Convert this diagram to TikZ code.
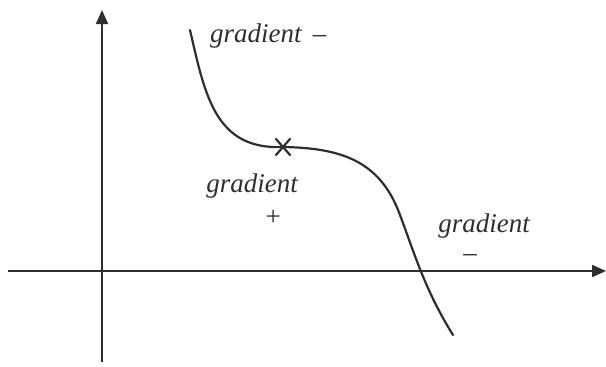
\documentclass[tikz,border=0pt]{standalone}
\usepackage{fontspec}
\setmainfont{Liberation Serif}
\usetikzlibrary{arrows.meta}
\definecolor{ink}{HTML}{2E2E2E}
\tikzset{
  axis/.style={draw=ink, line width=2pt, -{Triangle[length=14pt,width=12pt]}},
  curve/.style={draw=ink, line width=2.2pt, line cap=round},
  lbl/.style={text=ink, font=\itshape\fontsize{27}{27}\selectfont, inner sep=0pt}
}
\begin{document}
\begin{tikzpicture}[x=1pt,y=-1pt]
\useasboundingbox (0,0) rectangle (606,367);
\coordinate (ybot) at (102,362);
\coordinate (ytop) at (102,10);
\coordinate (xl) at (8,271);
\coordinate (xr) at (606,271);
\draw[axis] (ybot) -- (ytop);
\draw[axis] (xl) -- (xr);
\coordinate (c0) at (190,30);
\coordinate (sp) at (283,147);
\coordinate (c1) at (453,335);
\draw[curve] (c0) .. controls (205,95) and (215,150) .. (sp)
  .. controls (340,148) and (380,160) .. (400,215)
  .. controls (415,255) and (425,290) .. (c1);
\draw[curve] ([shift={(-7,-8)}]sp) -- ([shift={(7,8)}]sp);
\draw[curve] ([shift={(7,-8)}]sp) -- ([shift={(-7,8)}]sp);
\node[lbl, anchor=west] (g1) at (210,36) {gradient \,\textendash};
\node[lbl] (g2) at (252,186) {gradient};
\node[lbl] (p2) at (273,218) {+};
\node[lbl] (g3) at (484,226) {gradient};
\node[lbl] (m3) at (470,258) {\textendash};
\end{tikzpicture}
\end{document}
